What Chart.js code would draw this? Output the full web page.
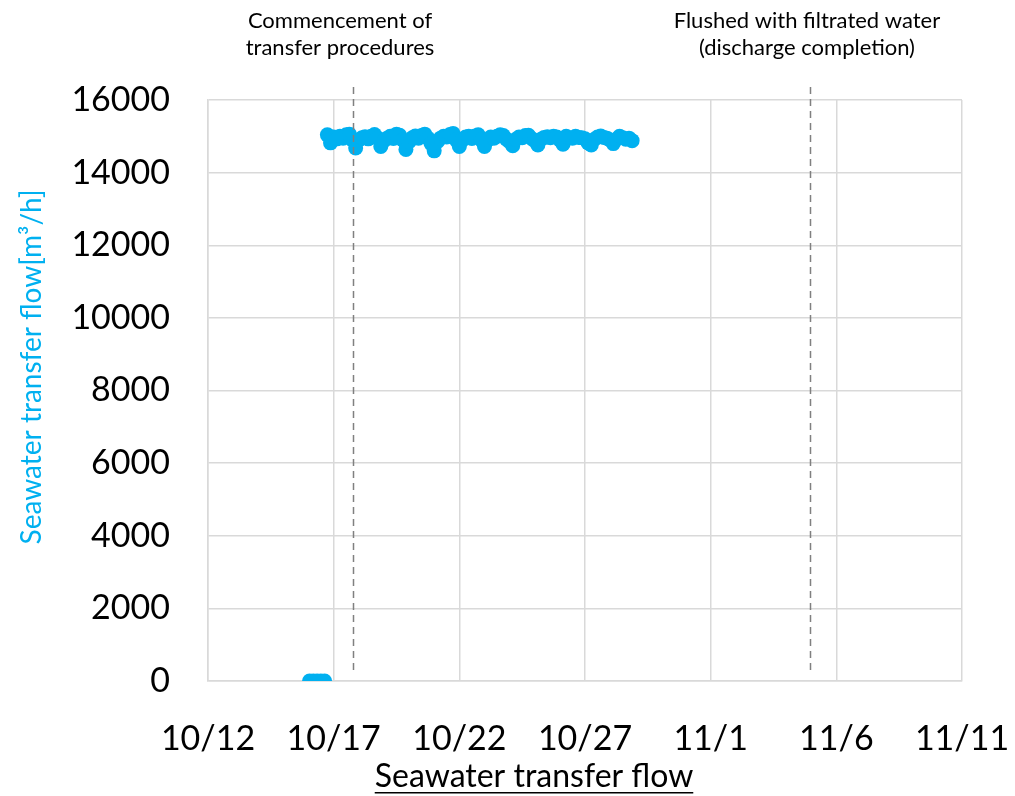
<!DOCTYPE html>
<html>
<head>
<meta charset="utf-8">
<script src="https://cdn.jsdelivr.net/npm/chart.js@4.4.0/dist/chart.umd.min.js"></script>
<style>
  html, body { margin: 0; padding: 0; background: #fff; }
</style>
</head>
<body>
<canvas id="flowChart" width="1015" height="796"></canvas>
<script>
// x values are days counted from 10/12 00:00
const tickDays = [0, 5, 10, 15, 20, 25, 30];
const tickLabels = ['10/12', '10/17', '10/22', '10/27', '11/1', '11/6', '11/11'];

const flowDays = [
  4.04, 4.19, 4.34, 4.49, 4.64,
  4.75, 4.875,
  5.0, 5.125, 5.25, 5.375, 5.5, 5.625, 5.75, 5.875,
  6.0, 6.125, 6.25, 6.375, 6.5, 6.625, 6.75, 6.875,
  7.0, 7.125, 7.25, 7.375, 7.5, 7.625, 7.75, 7.875,
  8.0, 8.125, 8.25, 8.375, 8.5, 8.625, 8.75, 8.875,
  9.0, 9.125, 9.25, 9.375, 9.5, 9.625, 9.75, 9.875,
  10.0, 10.125, 10.25, 10.375, 10.5, 10.625, 10.75, 10.875,
  11.0, 11.125, 11.25, 11.375, 11.5, 11.625, 11.75, 11.875,
  12.0, 12.125, 12.25, 12.375, 12.5, 12.625, 12.75, 12.875,
  13.0, 13.125, 13.25, 13.375, 13.5, 13.625, 13.75, 13.875,
  14.0, 14.125, 14.25, 14.375, 14.5, 14.625, 14.75, 14.875,
  15.0, 15.125, 15.25, 15.375, 15.5, 15.625, 15.75, 15.875,
  16.0, 16.125, 16.25, 16.375, 16.5, 16.625, 16.75, 16.875
];
const flowValues = [
  0, 0, 0, 0, 0,
  15040, 14820,
  14980, 14930, 15000, 14950, 15040, 15060, 14900, 14680,
  14900, 14960, 14990, 14930, 15000, 15050, 14950, 14720,
  14880, 14950, 15000, 14940, 15060, 15030, 14900, 14640,
  14850, 14960, 15010, 14950, 15020, 15060, 14950, 14800,
  14600, 14850, 14950, 15000, 14980, 15050, 15080, 14900,
  14720, 14900, 14980, 15000, 14940, 15010, 15040, 14900,
  14720, 14900, 14980, 14950, 15000, 15040, 15020, 14920,
  14850, 14740, 14920, 14980, 14960, 15020, 15030, 14940,
  14880, 14760, 14920, 14970, 14990, 14960, 15000, 14980,
  14900, 14780, 15000, 14960, 14950, 15000, 14970, 14960,
  14930, 14820, 14760, 14920, 14980, 15010, 14970, 14950,
  14900, 14800, 14920, 15000, 14960, 14920, 14950, 14880
];

const eventDays = [5.77, 23.95];
const eventLabels = [
  ['Commencement of', 'transfer procedures'],
  ['Flushed with filtrated water', '(discharge completion)']
];

const blue = '#00B0F0';
const gridColor = '#d9d9d9';

const markers = {
  id: 'markers',
  afterDatasetsDraw(chart) {
    const ctx = chart.ctx, x = chart.scales.x, area = chart.chartArea;
    ctx.save();
    ctx.strokeStyle = '#808080';
    ctx.lineWidth = 1.5;
    ctx.setLineDash([7, 5]);
    eventDays.forEach(d => {
      const px = Math.round(x.getPixelForValue(d)) + 0.5;
      ctx.beginPath();
      ctx.moveTo(px, area.top - 13);
      ctx.lineTo(px, area.bottom - 8);
      ctx.stroke();
    });
    ctx.restore();
  },
  afterDraw(chart) {
    const ctx = chart.ctx, x = chart.scales.x;
    const shift = [-13, -3];
    ctx.save();
    ctx.fillStyle = '#000';
    ctx.textAlign = 'center';
    ctx.textBaseline = 'middle';
    ctx.font = '22px Lato';
    eventLabels.forEach((lines, i) => {
      const px = x.getPixelForValue(eventDays[i]) + shift[i];
      lines.forEach((t, j) => ctx.fillText(t, px, 21 + j * 27));
    });

    // x axis title, underlined
    ctx.font = '32px Lato';
    const xt = 'Seawater transfer flow';
    const w = ctx.measureText(xt).width;
    ctx.fillText(xt, 534, 777);
    ctx.fillRect(534 - w / 2, 792, w, 1.5);

    // y axis title
    ctx.translate(32, 367);
    ctx.rotate(-Math.PI / 2);
    ctx.fillStyle = blue;
    ctx.font = '28px Lato';
    ctx.fillText('Seawater transfer flow[m³/h]', 0, 0);
    ctx.restore();
  }
};

new Chart(document.getElementById('flowChart'), {
  type: 'scatter',
  data: {
    datasets: [{
      label: 'Seawater transfer flow',
      data: flowDays.map((d, i) => ({ x: d, y: flowValues[i] })),
      backgroundColor: blue,
      pointBackgroundColor: blue,
      pointBorderWidth: 0,
      pointBorderColor: blue,
      pointRadius: 7.5,
      pointHoverRadius: 7.5
    }]
  },
  options: {
    responsive: false,
    animation: false,
    layout: { padding: { top: 100, right: 0, left: 0, bottom: 0 } },
    plugins: { legend: { display: false }, tooltip: { enabled: false } },
    scales: {
      x: {
        type: 'linear',
        min: 0,
        max: 30,
        afterBuildTicks: s => { s.ticks = tickDays.map(v => ({ value: v })); },
        afterFit: s => { s.height = 115; s.paddingRight = 53; s.paddingLeft = 0; },
        grid: { color: gridColor, lineWidth: 1.5, drawTicks: false },
        border: { color: gridColor, width: 1.5 },
        ticks: {
          autoSkip: false,
          maxRotation: 0,
          padding: 38,
          color: '#000',
          font: { family: 'Lato', size: 34 },
          callback: v => tickLabels[tickDays.indexOf(v)]
        }
      },
      y: {
        min: 0,
        max: 16000,
        afterFit: s => { s.width = 208; },
        grid: { color: gridColor, lineWidth: 1.5, drawTicks: false },
        border: { color: gridColor, width: 1.5 },
        ticks: {
          stepSize: 2000,
          padding: 38,
          color: '#000',
          font: { family: 'Lato', size: 34 },
          callback: v => String(v)
        }
      }
    }
  },
  plugins: [markers]
});
</script>
</body>
</html>
